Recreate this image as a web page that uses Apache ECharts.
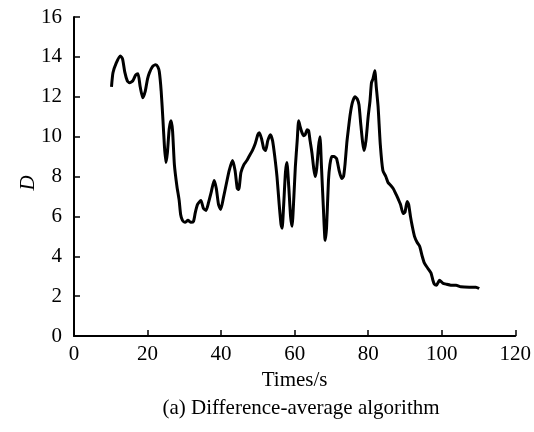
<!DOCTYPE html>
<html lang="en">

<head>
    <meta charset="UTF-8">
    <title>Difference-average algorithm</title>
    <script src="https://cdn.jsdelivr.net/npm/echarts@6/dist/echarts.min.js"></script>
    <style>
        html, body {
            margin: 0;
            background: #fff;
        }

        .chart {
            width: 534px;
            height: 432px;
        }
    </style>
</head>

<body>
    <div class="chart"></div>
</body>
<script>
    // time (s)
    var times = [
        10.2, 10.6, 11.5, 12.6, 13.2, 13.8, 14.5, 15.1, 16.0, 16.8,
        17.4, 18.0, 18.7, 19.4, 20.0, 20.5, 21.3, 22.2, 22.8, 23.2,
        23.7, 24.2, 24.6, 25.0, 25.4, 25.9, 26.4, 26.8, 27.3, 28.0,
        28.6, 29.0, 29.5, 30.2, 31.0, 31.8, 32.5, 33.0, 33.6, 34.5,
        35.2, 35.9, 36.6, 37.3, 38.1, 38.7, 39.3, 39.9, 40.6, 41.5,
        42.2, 43.1, 43.8, 44.4, 44.8, 45.4, 46.2, 47.0, 47.6, 48.5,
        49.2, 50.0, 50.4, 51.0, 51.6, 52.1, 52.7, 53.4, 54.0, 54.6,
        55.2, 55.8, 56.3, 56.6, 57.0, 57.5, 57.9, 58.4, 58.9, 59.3,
        59.8, 60.2, 60.7, 61.1, 61.5, 62.0, 62.5, 62.9, 63.4, 63.8,
        64.2, 64.7, 65.2, 65.6, 66.0, 66.5, 66.9, 67.3, 67.8, 68.3,
        68.7, 69.2, 69.6, 70.1, 70.7, 71.4, 72.1, 72.8, 73.3, 73.7,
        74.2, 74.7, 75.1, 75.7, 76.4, 77.0, 77.5, 78.0, 78.5, 78.9,
        79.4, 80.0, 80.5, 80.9, 81.3, 81.8, 82.2, 82.7, 83.3, 84.0,
        84.8, 85.4, 85.9, 86.8, 87.6, 88.1, 88.8, 89.5, 90.0, 90.6,
        91.0, 91.5, 92.0, 92.6, 93.3, 94.0, 94.7, 95.3, 96.2, 97.1,
        97.6, 98.0, 98.6, 99.4, 100.3, 101.2, 102.5, 103.9, 105.2, 107.5,
        109.3, 110.2
    ]
    // D values
    var dValues = [
        12.5, 13.2, 13.7, 14.05, 13.9, 13.25, 12.8, 12.7, 12.8, 13.1,
        13.15, 12.5, 11.95, 12.3, 12.9, 13.2, 13.5, 13.6, 13.5, 13.25,
        12.3, 10.8, 9.5, 8.7, 9.2, 10.4, 10.8, 10.3, 8.6, 7.5,
        6.8, 6.1, 5.8, 5.7, 5.8, 5.7, 5.75, 6.2, 6.6, 6.8,
        6.4, 6.3, 6.7, 7.2, 7.8, 7.4, 6.6, 6.35, 6.9, 7.7,
        8.3, 8.8, 8.3, 7.4, 7.35, 8.2, 8.6, 8.8, 9.0, 9.3,
        9.6, 10.1, 10.2, 9.9, 9.4, 9.3, 9.8, 10.1, 9.8, 9.0,
        8.0, 6.6, 5.6, 5.4, 6.5, 8.2, 8.7, 7.5, 6.0, 5.5,
        7.0, 8.5, 9.8, 10.8, 10.5, 10.2, 10.05, 10.1, 10.35, 10.3,
        9.8, 9.2, 8.4, 8.0, 8.4, 9.5, 10.0, 8.5, 6.5, 4.8,
        5.5, 7.8, 8.6, 9.0, 9.0, 8.9, 8.3, 7.9, 8.0, 8.6,
        9.7, 10.5, 11.1, 11.7, 12.0, 11.9, 11.6, 10.6, 9.7, 9.3,
        9.8, 11.0, 11.8, 12.7, 12.9, 13.3, 12.5, 11.5, 9.6, 8.3,
        8.0, 7.7, 7.6, 7.4, 7.1, 6.9, 6.6, 6.15, 6.2, 6.75,
        6.6, 6.0, 5.5, 5.0, 4.7, 4.5, 4.0, 3.65, 3.4, 3.15,
        2.8, 2.6, 2.55, 2.8, 2.65, 2.6, 2.55, 2.55, 2.47, 2.45,
        2.45, 2.38
    ]

    var points = times.map(function (t, i) {
        return [t, dValues[i]]
    })

    var font = 'Liberation Serif'
    var fs = 21
    var chart = echarts.init(document.querySelector('.chart'), null, { renderer: 'canvas' })

    var axisCommon = {
        axisLine: { show: true, lineStyle: { color: '#000', width: 2 } },
        axisTick: { show: true, inside: true, length: 6, lineStyle: { color: '#000', width: 1.5 } },
        splitLine: { show: false },
        axisLabel: { color: '#000', fontFamily: font, fontSize: fs }
    }

    chart.setOption({
        animation: false,
        title: {
            text: '(a) Difference-average algorithm',
            left: 296,
            top: 393,
            textAlign: 'center',
            textStyle: { color: '#000', fontFamily: font, fontSize: fs, fontWeight: 'normal' }
        },
        // y axis name "D", placed by hand so it sits close to the labels
        graphic: [{
            type: 'text',
            x: 28,
            y: 183,
            rotation: Math.PI / 2,
            style: {
                text: 'D',
                fill: '#000',
                font: 'italic 21px "Liberation Serif"',
                align: 'center',
                verticalAlign: 'middle'
            }
        }],
        grid: { left: 74, right: 17, top: 17, bottom: 96 },
        xAxis: Object.assign({}, axisCommon, {
            type: 'value',
            min: 0,
            max: 120,
            interval: 20,
            name: 'Times/s',
            nameLocation: 'middle',
            nameGap: 33,
            nameTextStyle: { color: '#000', fontFamily: font, fontSize: fs },
            axisLabel: Object.assign({}, axisCommon.axisLabel, { margin: 8 })
        }),
        yAxis: Object.assign({}, axisCommon, {
            type: 'value',
            min: 0,
            max: 16,
            interval: 2,
            axisLabel: Object.assign({}, axisCommon.axisLabel, { margin: 12 })
        }),
        series: [{
            type: 'line',
            data: points,
            smooth: 0.2,
            showSymbol: false,
            lineStyle: { color: '#000', width: 3 }
        }]
    })
</script>

</html>
